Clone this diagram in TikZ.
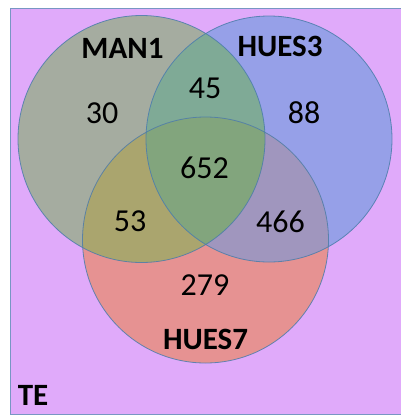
\documentclass[tikz,border=0pt]{standalone}
\usepackage{fontspec}
\setmainfont{Carlito}
\definecolor{bgc}{RGB}{224,170,250}
\definecolor{bgedge}{RGB}{120,150,195}
\definecolor{cA}{RGB}{165,172,160}
\definecolor{cB}{RGB}{150,160,232}
\definecolor{cC}{RGB}{230,146,146}
\definecolor{cAB}{RGB}{127,170,150}
\definecolor{cAC}{RGB}{170,165,110}
\definecolor{cBC}{RGB}{160,150,190}
\definecolor{cABC}{RGB}{130,165,125}
\definecolor{edgec}{RGB}{75,125,170}
\begin{document}
\begin{tikzpicture}[x=1pt,y=-1pt,
  setlabel/.style={font=\fontsize{31}{31}\selectfont\bfseries, inner sep=0pt},
  count/.style={font=\fontsize{32}{32}\selectfont, inner sep=0pt},
  ring/.style={draw=edgec, line width=0.8pt, draw opacity=0.85}]
\useasboundingbox (0,0) rectangle (401,416);
\fill[bgc] (10,8) rectangle (401,414);
\draw[bgedge, line width=0.8pt] (401,8) -- (10,8) -- (10,414) -- (401,414);
\coordinate (A) at (141.5,139);
\coordinate (B) at (269,139);
\coordinate (C) at (205.5,240);
\def\rA{123.5pt}\def\rB{123pt}\def\rC{123pt}
\fill[cA] (A) circle[radius=\rA];
\fill[cB] (B) circle[radius=\rB];
\fill[cC] (C) circle[radius=\rC];
\begin{scope}\clip (A) circle[radius=\rA]; \fill[cAB] (B) circle[radius=\rB];\end{scope}
\begin{scope}\clip (A) circle[radius=\rA]; \fill[cAC] (C) circle[radius=\rC];\end{scope}
\begin{scope}\clip (B) circle[radius=\rB]; \fill[cBC] (C) circle[radius=\rC];\end{scope}
\begin{scope}\clip (A) circle[radius=\rA]; \clip (B) circle[radius=\rB]; \fill[cABC] (C) circle[radius=\rC];\end{scope}
\draw[ring] (A) circle[radius=\rA];
\draw[ring] (B) circle[radius=\rB];
\draw[ring] (C) circle[radius=\rC];
\node[setlabel] (lA) at (122.5,48) {MAN1};
\node[setlabel] (lB) at (280,46) {HUES3};
\node[setlabel] (lC) at (205.5,339) {HUES7};
\node[setlabel] (lTE) at (33,395) {TE};
\node[count] (nA) at (102,113) {30};
\node[count] (nAB) at (205,88) {45};
\node[count] (nB) at (304,113) {88};
\node[count] (nABC) at (204.5,168) {652};
\node[count] (nAC) at (130,221) {53};
\node[count] (nBC) at (280.5,222) {466};
\node[count] (nC) at (205,285) {279};
\end{tikzpicture}
\end{document}
